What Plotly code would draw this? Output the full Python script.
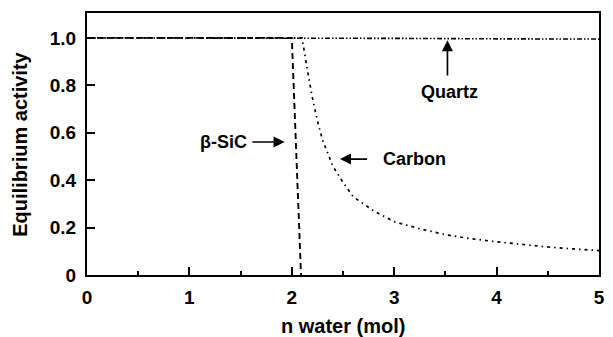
import plotly.graph_objects as go

# Equilibrium activities of the solid phases versus moles of water
quartz_x = [0, 1, 2, 2.1, 3, 4, 5]
quartz_y = [1.0, 1.0, 1.0, 1.0, 0.998, 0.996, 0.995]

sic_x = [0, 1, 2.0, 2.09]
sic_y = [1.0, 1.0, 1.0, 0.0]

carbon_x = [0, 1, 2.1, 2.15, 2.2, 2.25, 2.3, 2.4, 2.5, 2.6, 2.8, 3.0, 3.25, 3.5,
            3.75, 4.0, 4.25, 4.5, 4.75, 5.0]
carbon_y = [1.0, 1.0, 1.0, 0.87, 0.75, 0.65, 0.57, 0.46, 0.39, 0.33, 0.27, 0.225,
            0.195, 0.17, 0.153, 0.14, 0.128, 0.118, 0.11, 0.103]

y_tick_vals = [0, 0.2, 0.4, 0.6, 0.8, 1.0]
y_tick_text = ["0", "0.2", "0.4", "0.6", "0.8", "1.0"]
x_tick_vals = [0, 1, 2, 3, 4, 5]

FONT = "Liberation Sans"

fig = go.Figure()
fig.add_trace(go.Scatter(x=quartz_x, y=quartz_y, mode="lines",
                         line=dict(color="black", width=1.6,
                                   dash="5px,2px,1.5px,2px,1.5px,2px"),
                         name="Quartz"))
fig.add_trace(go.Scatter(x=sic_x, y=sic_y, mode="lines",
                         line=dict(color="black", width=1.9, dash="6px,4px"),
                         name="β-SiC"))
fig.add_trace(go.Scatter(x=carbon_x, y=carbon_y, mode="lines",
                         line=dict(color="black", width=1.7,
                                   dash="3px,4px,1.5px,4px"),
                         name="Carbon"))

arrow = dict(showarrow=True, arrowhead=2, arrowsize=1.3, arrowwidth=1.7,
             arrowcolor="black", axref="x", ayref="y", xref="x", yref="y",
             text="")
fig.add_annotation(x=1.93, y=0.561, ax=1.60, ay=0.561, **arrow)
fig.add_annotation(x=2.47, y=0.489, ax=2.75, ay=0.489, **arrow)
fig.add_annotation(x=3.52, y=0.99, ax=3.52, ay=0.835, **arrow)

label_font = dict(family=FONT, size=18, color="black", weight="bold")
fig.add_annotation(x=1.33, y=0.561, text="β-SiC", showarrow=False, font=label_font)
fig.add_annotation(x=3.195, y=0.489, text="Carbon", showarrow=False, font=label_font)
fig.add_annotation(x=3.54, y=0.772, text="Quartz", showarrow=False, font=label_font)

title_font = dict(family=FONT, size=20, color="black", weight="bold")
fig.add_annotation(xref="paper", yref="paper", x=(19 - 87) / 518, y=0.5,
                   xanchor="center", yanchor="middle",
                   text="Equilibrium activity", textangle=-90, showarrow=False,
                   font=title_font)
fig.add_annotation(xref="paper", yref="paper", x=0.5, y=-(326 - 275) / 262,
                   xanchor="center", yanchor="middle",
                   text="n water (mol)", showarrow=False, font=title_font)

tick_font = dict(family=FONT, size=19, color="black", weight="bold")
fig.update_xaxes(range=[0, 5], tickvals=x_tick_vals, ticks="inside", ticklen=8,
                 tickwidth=2, tickcolor="black", showline=True, linewidth=2,
                 linecolor="black", mirror=True, showgrid=False, zeroline=False,
                 tickfont=tick_font, ticklabelstandoff=4,
                 minor=dict(tickvals=[0.5, 1.5, 2.5, 3.5, 4.5], ticks="inside",
                            ticklen=4, tickwidth=2, tickcolor="black"))
fig.update_yaxes(range=[0, 1.105], tickvals=y_tick_vals, ticktext=y_tick_text,
                 ticks="inside", ticklen=8, tickwidth=2, tickcolor="black",
                 showline=True, linewidth=2, linecolor="black", mirror=True,
                 showgrid=False, zeroline=False, ticklabelstandoff=5,
                 tickfont=tick_font)

fig.update_layout(width=613, height=337, showlegend=False,
                  margin=dict(l=87, r=8, t=13, b=62),
                  paper_bgcolor="white", plot_bgcolor="white")

fig.write_html("out.html")
